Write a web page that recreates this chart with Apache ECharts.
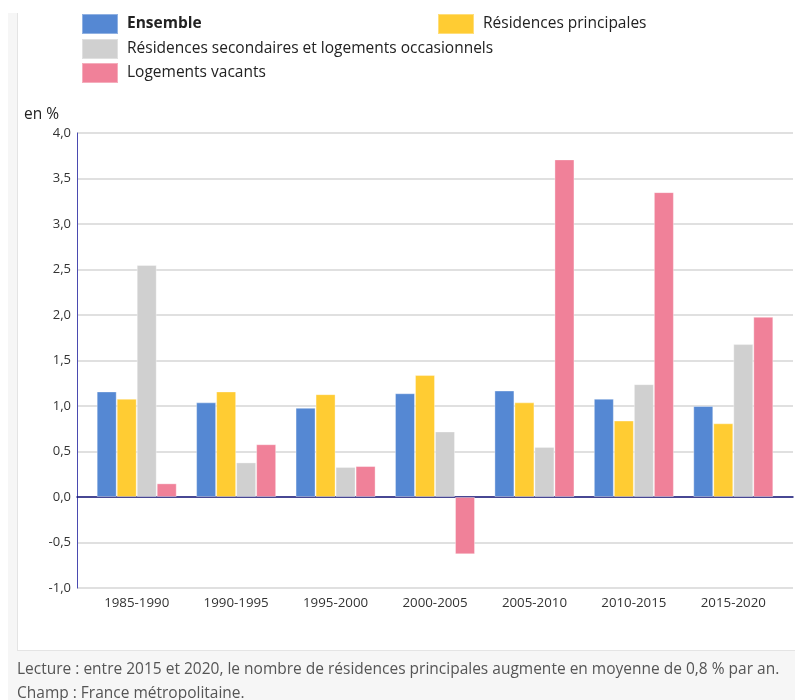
<!DOCTYPE html>
<html>
<head>
<meta charset="utf-8">
<script src="https://cdn.jsdelivr.net/npm/echarts@6/dist/echarts.min.js"></script>
<style>
  html, body { margin: 0; padding: 0; background: #ffffff; }
  #chart { width: 795px; height: 700px; }
</style>
</head>
<body>
<div id="chart"></div>
<script>
// ---- data ----
const categories = ['1985-1990', '1990-1995', '1995-2000', '2000-2005', '2005-2010', '2010-2015', '2015-2020'];
const seriesNames = ['Ensemble', 'Résidences principales', 'Résidences secondaires et logements occasionnels', 'Logements vacants'];
const ensemble = [1.16, 1.04, 0.98, 1.14, 1.17, 1.08, 1.00];
const residencesPrincipales = [1.08, 1.16, 1.13, 1.34, 1.04, 0.84, 0.81];
const residencesSecondaires = [2.55, 0.38, 0.33, 0.72, 0.55, 1.24, 1.68];
const logementsVacants = [0.15, 0.58, 0.34, -0.63, 3.71, 3.35, 1.98];
const yTicks = { min: -1, max: 4, step: 0.5 };
const unitLabel = 'en %';
const noteLecture = 'Lecture : entre 2015 et 2020, le nombre de résidences principales augmente en moyenne de 0,8 % par an.';
const noteChamp = 'Champ : France métropolitaine.';

const colors = ['#5588d3', '#ffcc33', '#d0d0d0', '#f08199'];
const FONT = '"Open Sans", "Noto Sans", sans-serif';

const chart = echarts.init(document.getElementById('chart'));

const fmt = v => v.toFixed(1).replace('.', ',');

const valueData = [ensemble, residencesPrincipales, residencesSecondaires, logementsVacants];

const legendBase = {
  icon: 'rect',
  itemWidth: 36,
  itemHeight: 20,
  padding: 0,
  selectedMode: false,
  textStyle: { fontFamily: FONT, fontSize: 15.5, color: '#222', padding: [2, 0, 0, 4] }
};

const option = {
  animation: false,
  textStyle: { fontFamily: FONT },
  graphic: [
    { type: 'rect', left: 8, top: 13, shape: { width: 787, height: 687 }, style: { fill: '#f6f6f6' }, z: -10, silent: true },
    { type: 'rect', left: 17, top: 0, shape: { width: 778, height: 651 }, style: { fill: '#ffffff' }, z: -9, silent: true },
    { type: 'rect', left: 17, top: 13, shape: { width: 1, height: 638 }, style: { fill: '#e4e4e4' }, z: -8, silent: true },
    { type: 'rect', left: 17, top: 650, shape: { width: 778, height: 1 }, style: { fill: '#e4e4e4' }, z: -8, silent: true },
    { type: 'text', left: 24, top: 107, style: { text: unitLabel, font: '15.5px ' + FONT, fill: '#222' } },
    { type: 'text', left: 17, top: 662, style: { text: noteLecture, font: '15.5px ' + FONT, fill: '#555' } },
    { type: 'text', left: 17, top: 686, style: { text: noteChamp, font: '15.5px ' + FONT, fill: '#555' } }
  ],
  legend: [
    Object.assign({}, legendBase, { left: 81, top: 13, data: [{ name: seriesNames[0], textStyle: { fontWeight: 'bold' } }] }),
    Object.assign({}, legendBase, { left: 437, top: 13, data: [seriesNames[1]] }),
    Object.assign({}, legendBase, { left: 81, top: 38, data: [seriesNames[2]] }),
    Object.assign({}, legendBase, { left: 81, top: 62, data: [seriesNames[3]] })
  ],
  grid: [
    { left: 77, right: 2, top: 133, height: 455 },
    { left: 87, right: 12, top: 133, height: 455 }
  ],
  xAxis: [
    {
      gridIndex: 0, type: 'value', min: 0, max: 1, show: true,
      axisLine: { show: true, onZero: true, lineStyle: { color: '#14147a', width: 1.5 } },
      axisTick: { show: false }, axisLabel: { show: false }, splitLine: { show: false }
    },
    {
      gridIndex: 1, type: 'category', data: categories,
      axisLine: { show: false }, axisTick: { show: false },
      axisLabel: { fontFamily: FONT, fontSize: 13.3, color: '#333', margin: 9 }
    }
  ],
  yAxis: [
    {
      gridIndex: 0, type: 'value', min: yTicks.min, max: yTicks.max, interval: yTicks.step,
      axisLine: { show: true, lineStyle: { color: '#4a4ab0', width: 1 } },
      axisTick: { show: false },
      axisLabel: { formatter: fmt, fontFamily: FONT, fontSize: 13, color: '#333', margin: 6 },
      splitLine: { show: true, lineStyle: { color: '#d6d6d6', width: 1.5 } }
    },
    {
      gridIndex: 1, type: 'value', min: yTicks.min, max: yTicks.max, interval: yTicks.step,
      show: false, splitLine: { show: false }
    }
  ],
  series: seriesNames.map((name, i) => ({
    name: name,
    type: 'bar',
    xAxisIndex: 1,
    yAxisIndex: 1,
    data: valueData[i],
    barGap: '0%',
    barCategoryGap: '19.5%',
    itemStyle: { color: colors[i], borderColor: 'rgba(255,255,255,0.35)', borderWidth: 1 },
    z: 3
  }))
};

chart.setOption(option);
</script>
</body>
</html>
